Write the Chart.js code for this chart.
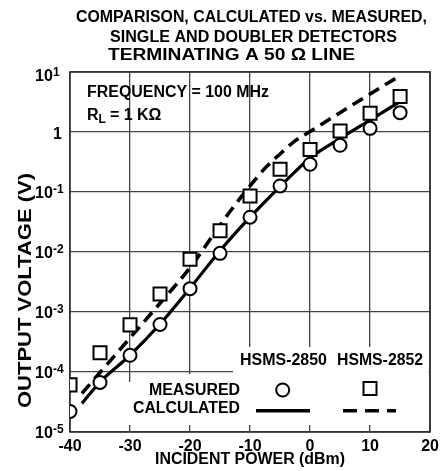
<!DOCTYPE html>
<html>
<head>
<meta charset="utf-8">
<script src="https://cdn.jsdelivr.net/npm/chart.js@4/dist/chart.umd.min.js"></script>
<style>
  html, body { margin: 0; padding: 0; background: #fff; }
  canvas { display: block; }
</style>
</head>
<body>
<canvas id="chart" width="444" height="471"></canvas>
<script>
// measured points, every 5 dBm
const measuredPower = [-40, -35, -30, -25, -20, -15, -10, -5, 0, 5, 10, 15];
const measured2850 = [2.2e-5, 6.7e-5, 1.9e-4, 6.2e-4, 2.45e-3, 9.5e-3, 0.038, 0.126, 0.29, 0.6, 1.15, 2.1];
const measured2852 = [6.1e-5, 2.1e-4, 6.1e-4, 2.0e-3, 7.6e-3, 0.0226, 0.086, 0.24, 0.51, 1.04, 2.05, 3.9];

// calculated curves
const calcPower2850 = [-38, -35, -30, -25, -20, -15, -10, -5, 0, 5, 10, 15];
const calc2850 = [3.0e-5, 6.8e-5, 1.9e-4, 6.3e-4, 2.5e-3, 0.0105, 0.038, 0.123, 0.37, 0.78, 1.58, 3.2];
const calcPower2852 = [-38, -35, -30, -25, -20, -15, -12.5, -10, -7.5, -5, -2.5, 0, 5, 10, 15];
const calc2852 = [4.4e-5, 9.8e-5, 3.7e-4, 1.4e-3, 5.5e-3, 0.028, 0.061, 0.126, 0.25, 0.43, 0.71, 1.02, 2.1, 4.3, 8.7];

const xTicks = [-40, -30, -20, -10, 0, 10, 20];
const yTicks = [1e-5, 1e-4, 1e-3, 1e-2, 1e-1, 1, 10];
const yTickLabels = [['10', '-5'], ['10', '-4'], ['10', '-3'], ['10', '-2'], ['10', '-1'], ['1', ''], ['10', '1']];

const titleLines = ['COMPARISON, CALCULATED vs. MEASURED,', 'SINGLE AND DOUBLER DETECTORS', 'TERMINATING A 50 \u03A9 LINE'];
const xTitle = 'INCIDENT POWER (dBm)';
const yTitle = 'OUTPUT VOLTAGE (V)';
const seriesNames = ['HSMS-2850', 'HSMS-2852'];
const rowNames = ['MEASURED', 'CALCULATED'];

const FONT = '"Liberation Sans", Arial, sans-serif';
const pts = (xs, ys) => xs.map((x, i) => ({ x, y: ys[i] }));

// bold text, centred vertically; optionally stretched to a given width
// returns the drawn width
function text(ctx, str, x, y, size, align, width) {
  ctx.font = `bold ${size}px ${FONT}`;
  ctx.textAlign = align;
  ctx.textBaseline = 'middle';
  const w = ctx.measureText(str).width;
  if (!width) { ctx.fillText(str, x, y); return w; }
  ctx.save();
  ctx.translate(x, y);
  ctx.scale(width / w, 1);
  ctx.fillText(str, 0, 0);
  ctx.restore();
  return width;
}

const decor = {
  id: 'decor',
  beforeDatasetsDraw(chart) {
    const { ctx, chartArea: a } = chart;
    ctx.save();
    // legend area is cut out of the grid
    ctx.fillStyle = '#fff';
    ctx.fillRect(233, 347, a.right - 1.5 - 233, 425 - 347);
    ctx.fillRect(140, 374, 233 - 140, 425 - 374);
    ctx.fillRect(100, 382, 40, 425 - 382);
    ctx.strokeStyle = '#333';
    ctx.lineWidth = 1.6;
    ctx.strokeRect(a.left, a.top, a.right - a.left, a.bottom - a.top);
    ctx.restore();
  },
  afterDraw(chart) {
    const { ctx, chartArea: a } = chart;
    const ys = chart.scales.y;
    ctx.save();
    ctx.fillStyle = '#000';

    text(ctx, titleLines[0], 251.5, 18, 16, 'center', 351);
    text(ctx, titleLines[1], 253.5, 37.5, 16, 'center', 287);
    text(ctx, titleLines[2], 231.5, 55.5, 16, 'center', 247);

    // y tick labels with superscript exponents
    yTicks.forEach((v, i) => {
      const [base, exp] = yTickLabels[i];
      const y = Math.max(ys.getPixelForValue(v) + 2, a.top + 5);
      if (!exp) { text(ctx, base, a.left - 8, y + 1, 16, 'right'); return; }
      text(ctx, base, a.left - 35, y, 16, 'left');
      text(ctx, exp, a.left - 17, y - 4, 12, 'left');
    });

    // axis titles
    text(ctx, xTitle, 250, 460, 16, 'center', 190);
    ctx.save();
    ctx.translate(26, 290.5);
    ctx.rotate(-Math.PI / 2);
    text(ctx, yTitle, 0, 0, 18, 'center', 235);
    ctx.restore();

    // conditions
    text(ctx, 'FREQUENCY = 100 MHz', 87, 93, 16, 'left', 182);
    let x = 87;
    x += text(ctx, 'R', x, 116, 16, 'left');
    x += text(ctx, 'L', x, 120, 12, 'left') + 4;
    text(ctx, '= 1 K\u03A9', x, 116, 16, 'left');

    // legend
    text(ctx, seriesNames[0], 283.5, 361, 16, 'center', 87);
    text(ctx, seriesNames[1], 380, 361, 16, 'center', 86);
    text(ctx, rowNames[0], 240, 391, 16, 'right', 91);
    text(ctx, rowNames[1], 240, 409, 16, 'right', 107);

    ctx.strokeStyle = '#000';
    ctx.fillStyle = '#fff';
    ctx.lineWidth = 2;
    ctx.beginPath();
    ctx.arc(282.7, 390, 6.5, 0, Math.PI * 2);
    ctx.fill();
    ctx.stroke();
    ctx.fillRect(363.5, 382, 13, 13);
    ctx.strokeRect(363.5, 382, 13, 13);

    ctx.lineWidth = 3.5;
    ctx.beginPath();
    ctx.moveTo(256, 410.7);
    ctx.lineTo(310, 410.7);
    ctx.stroke();
    ctx.setLineDash([14, 8]);
    ctx.beginPath();
    ctx.moveTo(343, 410.7);
    ctx.lineTo(396, 410.7);
    ctx.stroke();
    ctx.restore();
  }
};

const gridOpts = { color: '#444', lineWidth: 1.3, drawTicks: false };

new Chart(document.getElementById('chart'), {
  type: 'scatter',
  data: {
    datasets: [
      {
        label: 'HSMS-2850 calculated',
        data: pts(calcPower2850, calc2850),
        showLine: true,
        borderColor: '#000',
        borderWidth: 3.2,
        pointRadius: 0,
        cubicInterpolationMode: 'monotone',
        order: 2
      },
      {
        label: 'HSMS-2852 calculated',
        data: pts(calcPower2852, calc2852),
        showLine: true,
        borderColor: '#000',
        borderWidth: 3.6,
        borderDash: [12, 7],
        pointRadius: 0,
        cubicInterpolationMode: 'monotone',
        order: 2
      },
      {
        label: 'HSMS-2850 measured',
        data: pts(measuredPower, measured2850),
        pointStyle: 'circle',
        pointRadius: 6.5,
        pointBorderWidth: 2,
        pointBackgroundColor: '#fff',
        pointBorderColor: '#000',
        order: 1
      },
      {
        label: 'HSMS-2852 measured',
        data: pts(measuredPower, measured2852),
        pointStyle: 'rect',
        pointRadius: 9.2,
        pointBorderWidth: 2,
        pointBackgroundColor: '#fff',
        pointBorderColor: '#000',
        order: 1
      }
    ]
  },
  options: {
    responsive: false,
    animation: false,
    devicePixelRatio: 1,
    layout: { padding: { left: 0, right: 13, top: 72, bottom: 0 } },
    plugins: { legend: { display: false }, tooltip: { enabled: false } },
    scales: {
      x: {
        type: 'linear',
        min: -40,
        max: 20,
        afterBuildTicks: s => { s.ticks = xTicks.map(v => ({ value: v })); },
        afterFit: s => { s.height = 39; },
        grid: gridOpts,
        border: { display: false },
        ticks: {
          color: '#000',
          font: { family: FONT, weight: 'bold', size: 16 },
          padding: 5,
          maxRotation: 0,
          autoSkip: false
        }
      },
      y: {
        type: 'logarithmic',
        min: 1e-5,
        max: 10,
        afterBuildTicks: s => { s.ticks = yTicks.map(v => ({ value: v })); },
        afterFit: s => { s.width = 70; },
        grid: gridOpts,
        border: { display: false },
        ticks: { display: false }
      }
    }
  },
  plugins: [decor]
});
</script>
</body>
</html>
